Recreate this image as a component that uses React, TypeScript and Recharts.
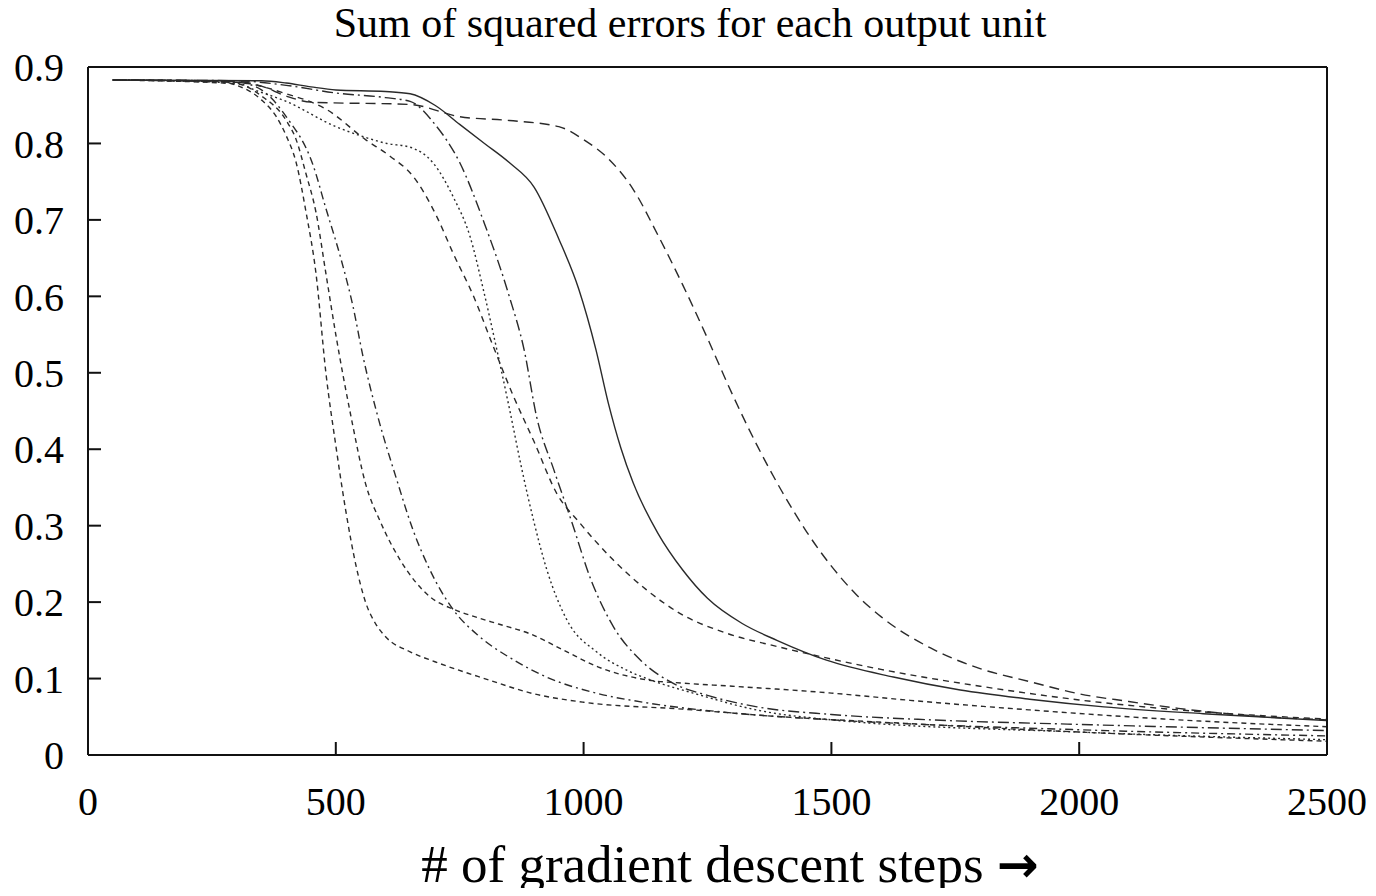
import React from "react";
import { LineChart, Line, XAxis, YAxis } from "recharts";

// Gradient descent steps (x) and sum of squared errors (y) for each output unit
const stepsA = [50, 250, 300, 350, 380, 400, 420, 440, 460, 480, 500, 520, 540, 560, 580, 600, 650, 700, 800, 900, 1000, 1200, 1400, 1600, 2000, 2500];
const errA = [0.883, 0.882, 0.876, 0.857, 0.835, 0.81, 0.775, 0.71, 0.63, 0.5, 0.405, 0.32, 0.25, 0.2, 0.172, 0.155, 0.135, 0.122, 0.1, 0.08, 0.069, 0.06, 0.05, 0.043, 0.03, 0.018];

const stepsB = [50, 300, 350, 400, 420, 440, 460, 480, 500, 530, 560, 590, 630, 690, 740, 780, 830, 890, 960, 1030, 1130, 1200, 1300, 1500, 1650, 1900, 2200, 2500];
const errB = [0.883, 0.878, 0.862, 0.83, 0.805, 0.76, 0.71, 0.63, 0.55, 0.445, 0.355, 0.305, 0.255, 0.207, 0.19, 0.181, 0.171, 0.159, 0.137, 0.115, 0.098, 0.094, 0.09, 0.081, 0.072, 0.059, 0.046, 0.037];

const stepsC = [50, 300, 350, 400, 455, 480, 510, 535, 555, 583, 623, 656, 690, 737, 790, 860, 925, 1025, 1130, 1300, 1500, 2000, 2500];
const errC = [0.883, 0.88, 0.87, 0.835, 0.77, 0.715, 0.65, 0.586, 0.521, 0.447, 0.36, 0.294, 0.242, 0.19, 0.155, 0.124, 0.102, 0.081, 0.068, 0.055, 0.046, 0.033, 0.025];

const stepsD = [50, 300, 400, 480, 560, 610, 656, 704, 737, 778, 818, 858, 900, 946, 993, 1060, 1127, 1195, 1290, 1390, 1490, 1600, 1800, 2000, 2200, 2500];
const errD = [0.883, 0.88, 0.865, 0.845, 0.805, 0.783, 0.757, 0.704, 0.656, 0.6, 0.534, 0.47, 0.41, 0.342, 0.303, 0.255, 0.216, 0.185, 0.159, 0.142, 0.127, 0.112, 0.09, 0.072, 0.059, 0.047];

const stepsE = [50, 300, 336, 400, 500, 550, 603, 650, 697, 737, 771, 798, 825, 851, 875, 899, 926, 966, 1026, 1087, 1140, 1221, 1356, 1500, 2000, 2500];
const errE = [0.883, 0.879, 0.87, 0.855, 0.822, 0.81, 0.8, 0.795, 0.774, 0.73, 0.678, 0.608, 0.53, 0.451, 0.375, 0.307, 0.242, 0.177, 0.135, 0.111, 0.097, 0.081, 0.058, 0.046, 0.03, 0.02];

const stepsF = [50, 300, 400, 500, 600, 650, 700, 750, 800, 850, 880, 905, 940, 975, 1015, 1060, 1115, 1180, 1250, 1350, 1500, 1700, 2000, 2500];
const errF = [0.883, 0.882, 0.876, 0.866, 0.86, 0.855, 0.825, 0.775, 0.695, 0.6, 0.53, 0.443, 0.373, 0.307, 0.229, 0.168, 0.124, 0.094, 0.078, 0.063, 0.053, 0.046, 0.04, 0.032];

const stepsG = [50, 350, 400, 450, 500, 600, 650, 700, 750, 800, 850, 900, 950, 990, 1025, 1050, 1075, 1100, 1150, 1200, 1250, 1320, 1390, 1490, 1625, 1760, 1900, 2050, 2250, 2500];
const errG = [0.883, 0.882, 0.879, 0.874, 0.87, 0.868, 0.865, 0.85, 0.825, 0.8, 0.775, 0.743, 0.675, 0.61, 0.53, 0.46, 0.402, 0.356, 0.29, 0.242, 0.205, 0.172, 0.15, 0.124, 0.102, 0.085, 0.073, 0.063, 0.054, 0.045];

const stepsH = [50, 300, 350, 400, 450, 650, 750, 850, 950, 1000, 1050, 1100, 1150, 1200, 1250, 1300, 1350, 1400, 1450, 1500, 1550, 1600, 1700, 1800, 1900, 2000, 2100, 2200, 2300, 2400, 2500];
const errH = [0.883, 0.881, 0.875, 0.862, 0.854, 0.851, 0.835, 0.83, 0.822, 0.805, 0.78, 0.74, 0.68, 0.615, 0.545, 0.472, 0.405, 0.345, 0.292, 0.247, 0.21, 0.181, 0.14, 0.113, 0.096, 0.08, 0.07, 0.061, 0.054, 0.049, 0.046];

const xTicks = [0, 500, 1000, 1500, 2000, 2500];
const yTicks = [0, 0.1, 0.2, 0.3, 0.4, 0.5, 0.6, 0.7, 0.8, 0.9];

const titleText = "Sum of squared errors for each output unit";
const xLabelText = "# of gradient descent steps ";
const arrowText = "\u2192";

const toData = (xs: number[], ys: number[]) => xs.map((x, i) => ({ x, y: ys[i] }));

const series = [
  { key: "A", data: toData(stepsA, errA), dash: "5 4" },
  { key: "B", data: toData(stepsB, errB), dash: "5 4" },
  { key: "C", data: toData(stepsC, errC), dash: "8 4 2 4" },
  { key: "D", data: toData(stepsD, errD), dash: "6 5" },
  { key: "E", data: toData(stepsE, errE), dash: "2 3" },
  { key: "F", data: toData(stepsF, errF), dash: "11 4 2 4" },
  { key: "G", data: toData(stepsG, errG), dash: undefined },
  { key: "H", data: toData(stepsH, errH), dash: "10 6" },
];

const FONT = "'Liberation Serif', 'Times New Roman', serif";
const W = 1360;
const H = 880;
const tickStyle = { fill: "#000", fontSize: 40, fontFamily: FONT };

export default function App() {
  return (
    <div style={{ position: "relative", width: W, height: H, background: "#fff" }}>
      <LineChart
        width={W}
        height={H}
        margin={{ top: 29, right: 11, bottom: 73, left: 0 }}
      >
        <XAxis
          dataKey="x"
          type="number"
          domain={[0, 2500]}
          ticks={xTicks}
          allowDuplicatedCategory={false}
          height={60}
          tickSize={-13}
          tickMargin={45}
          tick={tickStyle}
          axisLine={{ stroke: "#111", strokeWidth: 2 }}
          tickLine={{ stroke: "#111", strokeWidth: 2 }}
          interval={0}
        />
        <XAxis
          xAxisId="top"
          orientation="top"
          type="number"
          domain={[0, 2500]}
          ticks={xTicks}
          height={30}
          tickSize={-13}
          tickFormatter={() => ""}
          axisLine={{ stroke: "#111", strokeWidth: 2 }}
          tickLine={{ stroke: "#111", strokeWidth: 2 }}
          interval={0}
        />
        <YAxis
          type="number"
          domain={[0, 0.9]}
          ticks={yTicks}
          width={80}
          tickSize={-13}
          tickMargin={37}
          tick={tickStyle}
          tickFormatter={(v: number) => (v === 0 ? "0" : v.toFixed(1))}
          axisLine={{ stroke: "#111", strokeWidth: 2 }}
          tickLine={{ stroke: "#111", strokeWidth: 2 }}
          interval={0}
        />
        <YAxis
          yAxisId="right"
          orientation="right"
          type="number"
          domain={[0, 0.9]}
          ticks={yTicks}
          width={30}
          tickSize={-13}
          tickFormatter={() => ""}
          axisLine={{ stroke: "#111", strokeWidth: 2 }}
          tickLine={{ stroke: "#111", strokeWidth: 2 }}
          interval={0}
        />
        {series.map((s) => (
          <Line
            key={s.key}
            data={s.data}
            dataKey="y"
            type="monotone"
            stroke="#2a2a2a"
            strokeWidth={1.4}
            strokeDasharray={s.dash}
            dot={false}
            activeDot={false}
            isAnimationActive={false}
          />
        ))}
      </LineChart>
      <svg
        width={1376}
        height={896}
        style={{ position: "absolute", left: -8, top: -8, pointerEvents: "none", overflow: "visible" }}
      >
        <text x={690} y={37} textAnchor="middle" fontSize={42} fontFamily={FONT} fill="#000">
          {titleText}
        </text>
        <text x={730} y={882} textAnchor="middle" fontSize={53} fontFamily={FONT} fill="#000">
          {xLabelText}
          <tspan fontWeight="bold" fontFamily="'DejaVu Sans', sans-serif" fontSize={50}>{arrowText}</tspan>
        </text>
      </svg>
    </div>
  );
}
